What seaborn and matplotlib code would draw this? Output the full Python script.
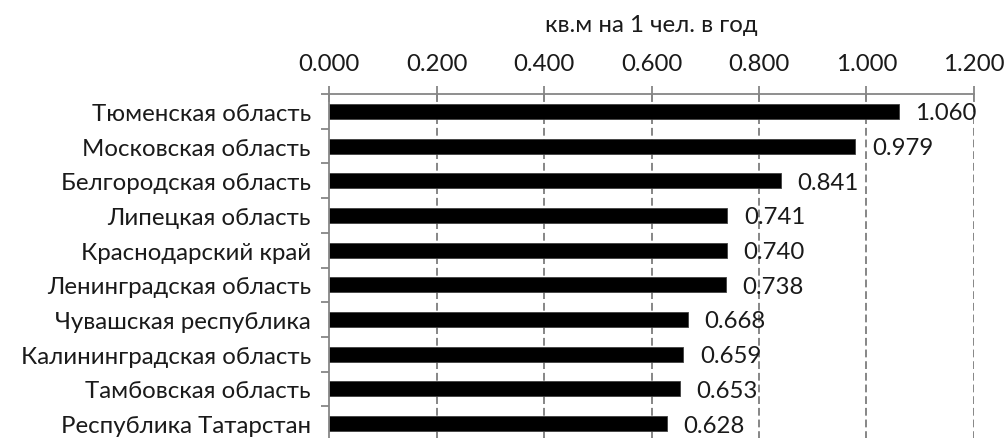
import matplotlib
matplotlib.use("Agg")
import matplotlib.pyplot as plt
import seaborn as sns
import pandas as pd
import numpy as np

regions = [
    "Тюменская область",
    "Московская область",
    "Белгородская область",
    "Липецкая область",
    "Краснодарский край",
    "Ленинградская область",
    "Чувашская республика",
    "Калининградская область",
    "Тамбовская область",
    "Республика Татарстан",
]
values = [1.060, 0.979, 0.841, 0.741, 0.740, 0.738, 0.668, 0.659, 0.653, 0.628]
x_ticks = [0.0, 0.2, 0.4, 0.6, 0.8, 1.0, 1.2]
axis_title = "кв.м на 1 чел. в год"

sns.set_theme(style="white")
plt.rcParams["font.family"] = ["Lato", "DejaVu Sans"]

df = pd.DataFrame({"region": regions, "value": values})

fig = plt.figure(figsize=(10.08, 4.39), dpi=100)
ax = fig.add_axes([329 / 1008, -3 / 439, 645 / 1008, 347 / 439])

sns.barplot(data=df, x="value", y="region", orient="h", color="black",
            edgecolor="#404040", linewidth=0.6, width=0.43, ax=ax,
            saturation=1)

grey = "#868686"
txt = "#1a1a1a"
fs = 17.3
ax.set_xlim(0, 1.2)
ax.set_ylim(len(regions) - 0.5, -0.5)

# value axis on top
ax.xaxis.tick_top()
ax.xaxis.set_label_position("top")
ax.set_xticks(x_ticks)
ax.set_xticklabels([f"{t:.3f}" for t in x_ticks], fontsize=fs, color=txt)
ax.tick_params(axis="x", which="major", direction="inout", length=11,
               width=1.3, color=grey, pad=9)
ax.set_xlabel("")

# category axis: marks between categories
ax.set_yticks(np.arange(len(regions)))
ax.set_yticklabels(regions, fontsize=fs, color=txt)
ax.set_yticks(np.arange(len(regions) + 1) - 0.5, minor=True)
ax.tick_params(axis="y", which="major", length=0, pad=13)
ax.tick_params(axis="y", which="minor", direction="out", length=5.5,
               width=1.3, color=grey, left=True)
ax.set_ylabel("")

for s in ["right", "bottom"]:
    ax.spines[s].set_visible(False)
for s in ["top", "left"]:
    ax.spines[s].set_color(grey)
    ax.spines[s].set_linewidth(1.3)

# dashed vertical gridlines
for t in x_ticks[1:]:
    ax.axvline(t, color=grey, linewidth=1.4, linestyle=(0, (4, 2)), zorder=0)

# value labels
for i, v in enumerate(values):
    ax.annotate(f"{v:.3f}", xy=(v, i), xytext=(12, -1), textcoords="offset points",
                va="center", ha="left", fontsize=fs, color=txt,
                annotation_clip=False)

fig.text((329 + 974) / 2 / 1008, 1 - 25 / 439, axis_title, ha="center",
         va="center", fontsize=fs, color=txt)

fig.savefig("out.png", dpi=100)
